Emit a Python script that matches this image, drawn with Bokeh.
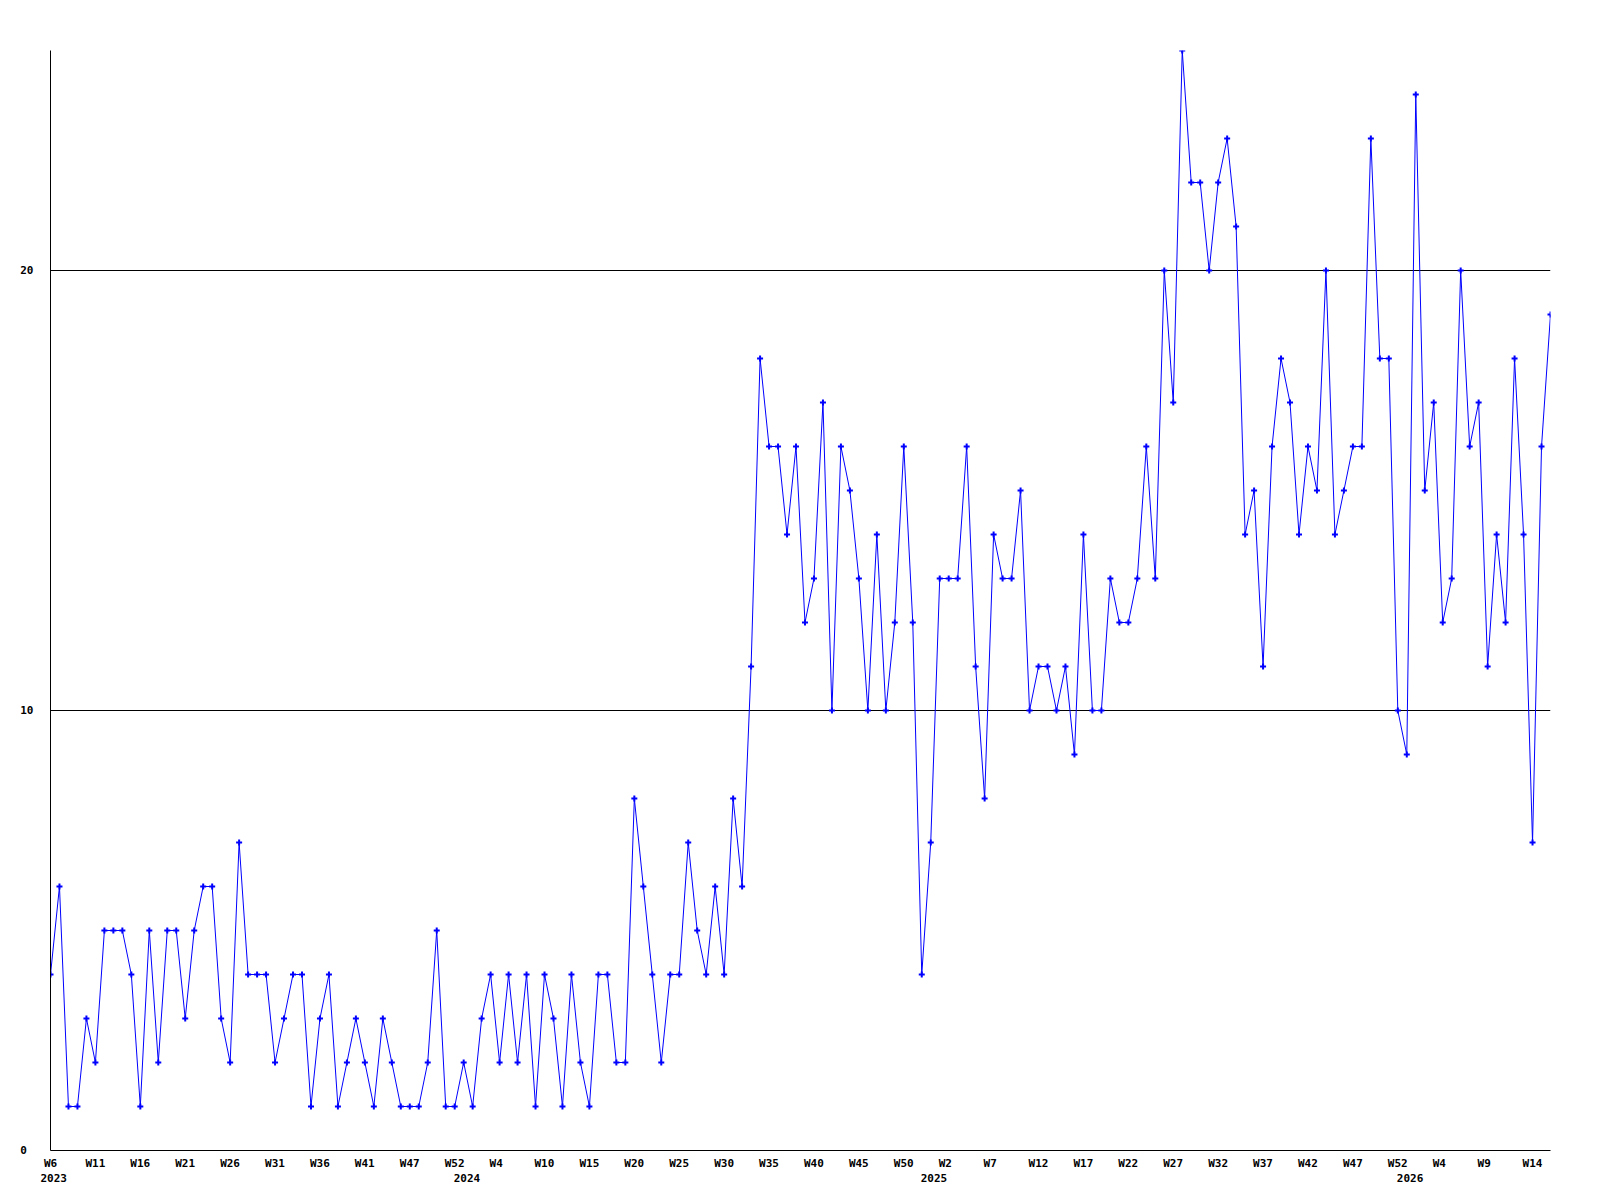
from bokeh.plotting import figure
from bokeh.models import Range1d, LinearAxis, FixedTicker, ColumnDataSource
from bokeh.embed import file_html
from bokeh.resources import INLINE

# weekly counts, 2023 W6 .. 2026 W15 (one value per plotted week)
values = [4, 6, 1, 1, 3, 2, 5, 5, 5, 4,
          1, 5, 2, 5, 5, 3, 5, 6, 6, 3,
          2, 7, 4, 4, 4, 2, 3, 4, 4, 1,
          3, 4, 1, 2, 3, 2, 1, 3, 2, 1,
          1, 1, 2, 5, 1, 1, 2, 1, 3, 4,
          2, 4, 2, 4, 1, 4, 3, 1, 4, 2,
          1, 4, 4, 2, 2, 8, 6, 4, 2, 4,
          4, 7, 5, 4, 6, 4, 8, 6, 11, 18,
          16, 16, 14, 16, 12, 13, 17, 10, 16, 15,
          13, 10, 14, 10, 12, 16, 12, 4, 7, 13,
          13, 13, 16, 11, 8, 14, 13, 13, 15, 10,
          11, 11, 10, 11, 9, 14, 10, 10, 13, 12,
          12, 13, 16, 13, 20, 17, 25, 22, 22, 20,
          22, 23, 21, 14, 15, 11, 16, 18, 17, 14,
          16, 15, 20, 14, 15, 16, 16, 23, 18, 18,
          10, 9, 24, 15, 17, 12, 13, 20, 16, 17,
          11, 14, 12, 18, 14, 7, 16, 19]

week_labels = ["W6", "W11", "W16", "W21", "W26", "W31", "W36", "W41", "W47", "W52",
               "W4", "W10", "W15", "W20", "W25", "W30", "W35", "W40", "W45", "W50",
               "W2", "W7", "W12", "W17", "W22", "W27", "W32", "W37", "W42", "W47",
               "W52", "W4", "W9", "W14"]
week_label_pos = list(range(0, 5 * len(week_labels), 5))

year_labels = ["2023", "2024", "2025", "2026"]
year_label_pos = [0, 46, 98, 151]

y_ticks = [0, 10, 20]
y_grid = [10, 20]

n = len(values)
x = list(range(n))

FRAME_W, FRAME_H = 1500, 1100
px_per_pt = FRAME_W / (n - 1)
CHAR_W = 6.62  # DejaVu Sans Mono 11px advance


def shifted(pos, label):
    # labels are left-aligned 10px left of their week; axis labels are centred
    s = pos + (-10 + len(label) * CHAR_W / 2) / px_per_pt
    return max(s, 0.0)


FONT = "DejaVu Sans Mono"

p = figure(frame_width=FRAME_W, frame_height=FRAME_H,
           x_range=Range1d(0, n - 1), y_range=Range1d(0, 25),
           output_backend="svg", toolbar_location=None,
           min_border_left=50, min_border_top=50, min_border_right=48,
           min_border_bottom=48, background_fill_color="white",
           border_fill_color="white")
p.outline_line_color = None

src = ColumnDataSource(dict(x=x, y=values))
p.line("x", "y", source=src, line_color="#0000FF", line_width=1)
p.scatter("x", "y", source=src, marker="cross", size=6, line_width=2,
          line_color="#0000FF")

# grid
p.xgrid.visible = False
p.ygrid.ticker = FixedTicker(ticks=y_grid)
p.ygrid.grid_line_color = "black"
p.ygrid.grid_line_width = 1

# y axis
ya = p.yaxis[0]
ya.ticker = FixedTicker(ticks=y_ticks)
ya.major_label_overrides = {0: "0\u00a0"}
ya.major_tick_line_color = None
ya.minor_tick_line_color = None
ya.major_tick_out = 0
ya.major_tick_in = 0
ya.major_label_standoff = 17
ya.axis_line_color = "black"
ya.major_label_text_font = FONT
ya.major_label_text_font_style = "bold"
ya.major_label_text_font_size = "11px"
ya.major_label_text_color = "black"

# week axis
xa = p.xaxis[0]
wk_pos = [shifted(pp, lb) for pp, lb in zip(week_label_pos, week_labels)]
xa.ticker = FixedTicker(ticks=wk_pos)
xa.major_label_overrides = {t: lb for t, lb in zip(wk_pos, week_labels)}
xa.major_tick_line_color = None
xa.minor_tick_line_color = None
xa.major_tick_out = 0
xa.major_tick_in = 0
xa.major_label_standoff = 6
xa.axis_line_color = "black"
xa.major_label_text_font = FONT
xa.major_label_text_font_style = "bold"
xa.major_label_text_font_size = "11px"
xa.major_label_text_color = "black"

# year axis
yr_pos = [shifted(pp, lb) for pp, lb in zip(year_label_pos, year_labels)]
ya2 = LinearAxis(ticker=FixedTicker(ticks=yr_pos),
                 major_label_overrides={t: lb for t, lb in zip(yr_pos, year_labels)},
                 axis_line_color=None, major_tick_line_color=None,
                 minor_tick_line_color=None, major_tick_out=0, major_tick_in=0,
                 major_label_standoff=1,
                 major_label_text_font=FONT, major_label_text_font_style="bold",
                 major_label_text_font_size="11px", major_label_text_color="black")
p.add_layout(ya2, "below")

open("out.html", "w").write(file_html(p, INLINE))
